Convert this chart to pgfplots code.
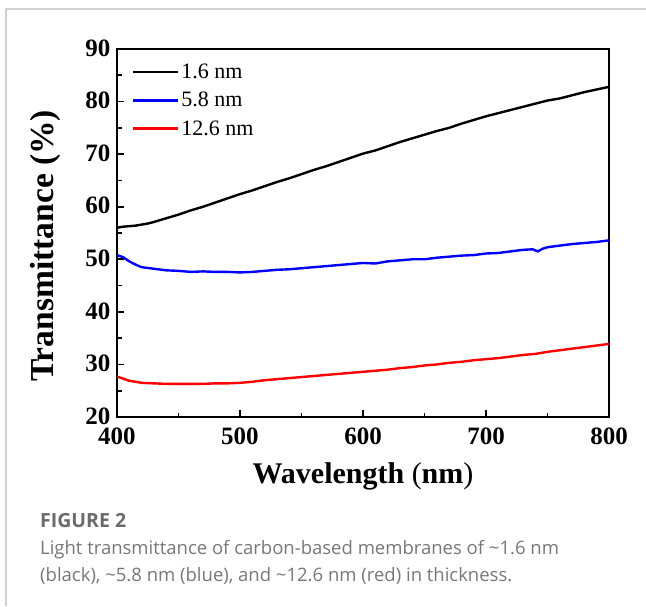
\documentclass[border=0pt]{standalone}
\usepackage{pgfplots}
\pgfplotsset{compat=1.18}
\usepackage{fontspec}
\setmainfont{Liberation Serif}
\newfontfamily\capfont{Open Sans}
\definecolor{capgray}{HTML}{777777}
\definecolor{figgray}{HTML}{6A6A6A}
\begin{document}
\begin{tikzpicture}[x=1pt,y=1pt]
\path[use as bounding box] (0,0) rectangle (646,-606);
\draw[black!18, line width=1.2pt] (6,-606) -- (6,-9) -- (646,-9);
\begin{axis}[
  at={(117pt,-49pt)}, anchor=north west, scale only axis,
  width=492pt, height=368pt,
  xmin=400, xmax=800, ymin=20, ymax=90,
  xtick={400,500,...,800}, ytick={20,30,...,90},
  minor x tick num=1, minor y tick num=1,
  tick align=inside, xtick pos=bottom, ytick pos=left,
  axis line style={line width=2.2pt},
  major tick length=7pt, minor tick length=4.5pt,
  every tick/.style={line width=1.6pt, black},
  /pgf/number format/assume math mode=true,
  tick label style={font=\fontsize{25}{25}\selectfont\bfseries},
  xticklabel style={yshift=-7pt},
  yticklabel style={xshift=-3pt, yshift=1pt},
  xlabel={\fontsize{30}{30}\selectfont Wavelength\ {\mdseries(}nm{\mdseries)}},
  xlabel style={font=\bfseries, at={(axis description cs:0.5,0)}, anchor=north, yshift=-42pt},
  ylabel={Transmittance (\%)},
  ylabel style={font=\fontsize{33.5}{33.5}\selectfont\bfseries, at={(axis description cs:-0.146,0.465)}, anchor=center},
  legend style={draw=none, fill=none, at={(axis description cs:0.026,0.97)}, anchor=north west,
    font=\fontsize{22}{22}\selectfont, row sep=8pt, inner sep=2pt},
  legend cell align=left,
  legend image code/.code={\draw[#1, line width=2.4pt] (0pt,0pt) -- (45pt,0pt);},
]
\addplot[black, line width=2.4pt] coordinates {
(400,56.0)(405,56.2)(410,56.3)(415,56.4)(420,56.6)(425,56.8)(430,57.1)(440,57.8)(450,58.5)(460,59.3)(470,60.0)(480,60.8)(490,61.6)(500,62.4)(510,63.1)(520,63.9)(530,64.7)(540,65.4)(550,66.2)(560,67.0)(570,67.7)(580,68.5)(590,69.3)(600,70.1)(610,70.7)(620,71.5)(630,72.3)(640,73.0)(650,73.7)(660,74.4)(670,75.0)(680,75.8)(690,76.5)(700,77.2)(710,77.8)(720,78.4)(730,79.0)(740,79.6)(750,80.2)(760,80.6)(770,81.2)(780,81.8)(790,82.3)(800,82.8)};
\addlegendentry{1.6 nm}
\addplot[blue, line width=2.4pt] coordinates {
(400,50.8)(405,50.4)(410,49.6)(415,49.0)(420,48.5)(430,48.2)(440,47.9)(450,47.8)(460,47.6)(470,47.7)(480,47.6)(490,47.6)(500,47.5)(510,47.6)(520,47.8)(530,48.0)(540,48.1)(550,48.3)(560,48.5)(570,48.7)(580,48.9)(590,49.1)(600,49.3)(610,49.2)(620,49.6)(630,49.8)(640,50.0)(650,50.0)(660,50.3)(670,50.5)(680,50.7)(690,50.8)(700,51.1)(710,51.2)(720,51.5)(730,51.8)(738,51.9)(742,51.5)(746,52.0)(750,52.3)(760,52.6)(770,52.9)(780,53.1)(790,53.3)(800,53.6)};
\addlegendentry{5.8 nm}
\addplot[red, line width=2.4pt] coordinates {
(400,27.7)(405,27.3)(410,26.9)(415,26.7)(420,26.5)(430,26.4)(440,26.3)(450,26.3)(460,26.3)(470,26.3)(480,26.4)(490,26.4)(500,26.5)(510,26.7)(520,27.0)(530,27.2)(540,27.4)(550,27.6)(560,27.8)(570,28.0)(580,28.2)(590,28.4)(600,28.6)(610,28.8)(620,29.0)(630,29.3)(640,29.5)(650,29.8)(660,30.0)(670,30.3)(680,30.5)(690,30.8)(700,31.0)(710,31.2)(720,31.5)(730,31.8)(740,32.0)(750,32.4)(760,32.7)(770,33.0)(780,33.3)(790,33.6)(800,33.9)};
\addlegendentry{12.6 nm}
\end{axis}
\node[anchor=base west, inner sep=0pt, font=\capfont\bfseries\fontsize{19.5}{19.5}\selectfont, text=figgray] at (40,-527) {FIGURE 2};
\node[anchor=base west, inner sep=0pt, font=\capfont\fontsize{18.5}{18.5}\selectfont, text=capgray] at (40,-554) {Light transmittance of carbon-based membranes of \textasciitilde1.6 nm};
\node[anchor=base west, inner sep=0pt, font=\capfont\fontsize{18.5}{18.5}\selectfont, text=capgray] at (40,-581) {(black), \textasciitilde5.8 nm (blue), and \textasciitilde12.6 nm (red) in thickness.};
\end{tikzpicture}
\end{document}
